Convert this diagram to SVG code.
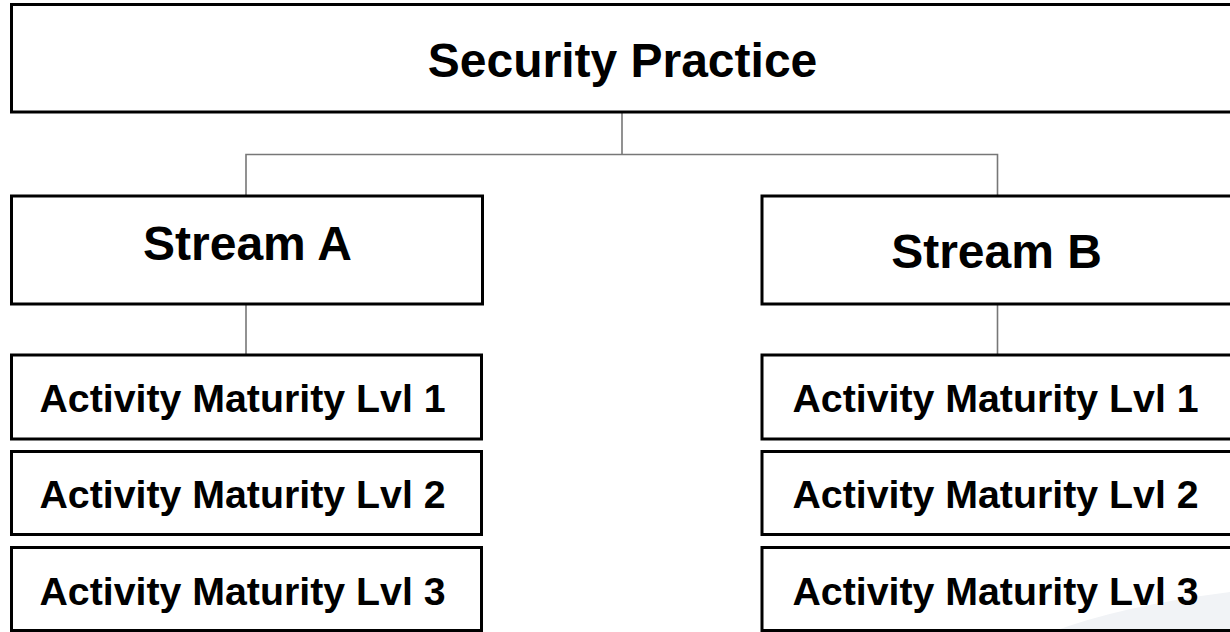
<svg xmlns="http://www.w3.org/2000/svg" width="1230" height="632" viewBox="0 0 1230 632">
  <style>
    .box { fill: none; stroke: #000; stroke-width: 3; }
    .t { font-family: "Liberation Sans", Arial, sans-serif; font-weight: bold; fill: #000; text-anchor: middle; }
    .big { font-size: 48px; }
    .act { font-size: 39.3px; }
    .conn { fill: none; stroke: #777; stroke-width: 1.6; }
  </style>
  <rect x="0" y="0" width="1230" height="632" fill="#fff"/>
  <path id="swoosh" d="M1052,632 Q1120,606 1230,592 L1230,632 Z" fill="#f1f3f6"/>
  <g id="connectors">
    <path class="conn" d="M622,112 V154.5 M246,196 V154.5 H997.5 V196"/>
    <path class="conn" d="M246,304 V355"/>
    <path class="conn" d="M997.5,304 V355"/>
  </g>
  <g id="security-practice">
    <rect class="box" x="11.5" y="4.5" width="1240" height="107.5"/>
    <text class="t big" x="622.5" y="76.5">Security Practice</text>
  </g>
  <g id="stream-a">
    <rect class="box" x="11.5" y="196" width="471" height="108"/>
    <text class="t big" x="247.5" y="260">Stream A</text>
  </g>
  <g id="stream-b">
    <rect class="box" x="762" y="196" width="490" height="108"/>
    <text class="t big" x="996.5" y="268">Stream B</text>
  </g>
  <g id="a-lvl1">
    <rect class="box" x="11.5" y="355" width="470" height="84"/>
    <text class="t act" x="242.5" y="412">Activity Maturity Lvl 1</text>
  </g>
  <g id="a-lvl2">
    <rect class="box" x="11.5" y="451.5" width="470" height="83"/>
    <text class="t act" x="242.5" y="508">Activity Maturity Lvl 2</text>
  </g>
  <g id="a-lvl3">
    <rect class="box" x="11.5" y="547.5" width="470" height="83"/>
    <text class="t act" x="242.5" y="605">Activity Maturity Lvl 3</text>
  </g>
  <g id="b-lvl1">
    <rect class="box" x="762" y="355" width="490" height="84"/>
    <text class="t act" x="995.5" y="412">Activity Maturity Lvl 1</text>
  </g>
  <g id="b-lvl2">
    <rect class="box" x="762" y="451.5" width="490" height="83"/>
    <text class="t act" x="995.5" y="508">Activity Maturity Lvl 2</text>
  </g>
  <g id="b-lvl3">
    <rect class="box" x="762" y="547.5" width="490" height="83"/>
    <text class="t act" x="995.5" y="605">Activity Maturity Lvl 3</text>
  </g>
</svg>
